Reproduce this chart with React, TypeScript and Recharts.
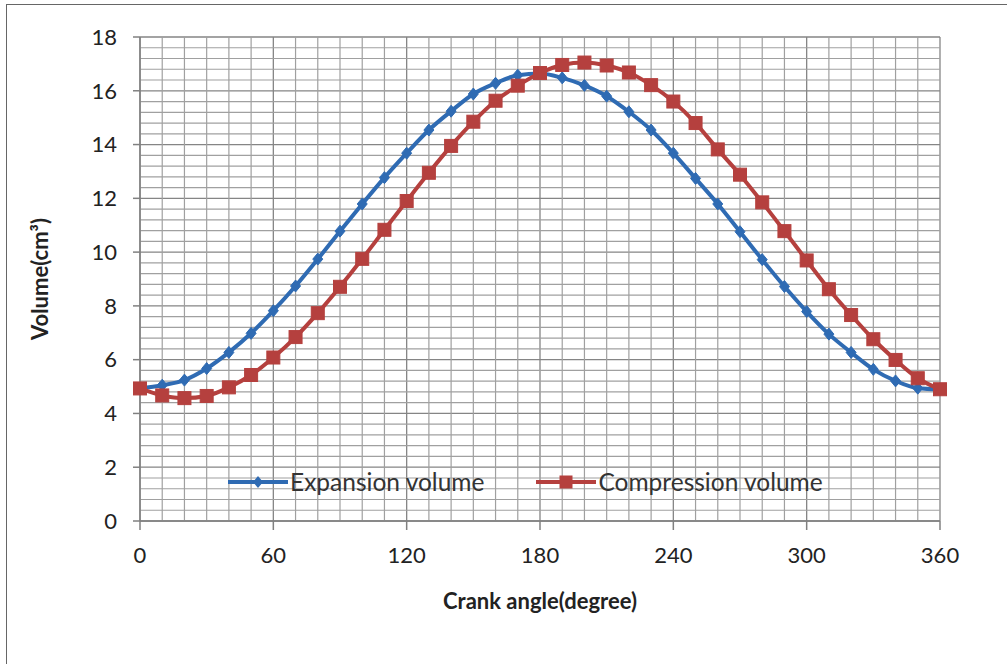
import React from "react";
import {
  LineChart,
  Line,
  XAxis,
  YAxis,
  CartesianGrid,
  ReferenceLine,
} from "recharts";

const BLUE = "#2f6bb3";
const RED = "#b5403e";
const FONT = "Lato, 'Open Sans', sans-serif";

const angles = [
  0, 10, 20, 30, 40, 50, 60, 70, 80, 90, 100, 110, 120, 130, 140, 150, 160, 170, 180,
  190, 200, 210, 220, 230, 240, 250, 260, 270, 280, 290, 300, 310, 320, 330, 340, 350, 360,
];
const expansion = [
  4.93, 5.05, 5.24, 5.67, 6.27, 6.98, 7.82, 8.74, 9.74, 10.78, 11.79, 12.77, 13.68, 14.54,
  15.24, 15.88, 16.28, 16.58, 16.64, 16.48, 16.2, 15.8, 15.22, 14.54, 13.68, 12.74, 11.79,
  10.76, 9.72, 8.72, 7.79, 6.95, 6.27, 5.64, 5.21, 4.94, 4.9,
];
const compression = [
  4.93, 4.67, 4.57, 4.65, 4.97, 5.43, 6.08, 6.84, 7.73, 8.71, 9.75, 10.83, 11.9, 12.95,
  13.95, 14.85, 15.63, 16.19, 16.66, 16.96, 17.05, 16.94, 16.68, 16.21, 15.6, 14.8, 13.82,
  12.88, 11.85, 10.78, 9.69, 8.62, 7.66, 6.76, 5.99, 5.31, 4.9,
];

const xTicks = [0, 60, 120, 180, 240, 300, 360];
const yTicks = [0, 2, 4, 6, 8, 10, 12, 14, 16, 18];
// minor grid: every 10 degrees, every 0.4 cm3
const minorX = angles.filter((a) => a % 60 !== 0);
const minorY = Array.from({ length: 45 }, (_, i) => +(i * 0.4).toFixed(1)).filter(
  (v) => v % 2 !== 0
);

const data = angles.map((a, i) => ({
  angle: a,
  expansion: expansion[i],
  compression: compression[i],
}));

const Diamond = (props: any) => {
  const { cx, cy } = props;
  if (cx == null || cy == null) return null;
  return (
    <polygon
      points={`${cx},${cy - 6} ${cx + 5},${cy} ${cx},${cy + 6} ${cx - 5},${cy}`}
      fill={BLUE}
      stroke={BLUE}
    />
  );
};

const Square = (props: any) => {
  const { cx, cy } = props;
  if (cx == null || cy == null) return null;
  return <rect x={cx - 6.5} y={cy - 6.5} width={13} height={13} fill={RED} stroke={RED} />;
};

function ChartLegend() {
  const item = (color: string, marker: React.ReactNode, label: string) => (
    <div style={{ display: "flex", alignItems: "center" }}>
      <svg width={64} height={20}>
        <line x1={2} y1={10} x2={62} y2={10} stroke={color} strokeWidth={4} />
        {marker}
      </svg>
      <span style={{ marginLeft: 0 }}>{label}</span>
    </div>
  );
  return (
    <div
      style={{
        position: "absolute",
        left: 226,
        top: 467,
        display: "flex",
        fontFamily: FONT,
        fontSize: 24.5,
        lineHeight: "30px",
        color: "#333",
        gap: 50,
      }}
    >
      {item(
        BLUE,
        <polygon points="32,4 37,10 32,16 27,10" fill={BLUE} />,
        "Expansion volume"
      )}
      {item(RED, <rect x={25.5} y={3.5} width={13} height={13} fill={RED} />, "Compression volume")}
    </div>
  );
}

export default function App() {
  return (
    <div
      style={{
        position: "fixed",
        left: 0,
        top: 0,
        width: 1007,
        height: 664,
        background: "#fff",
        overflow: "hidden",
      }}
    >
      <div
        style={{
          position: "absolute",
          left: 6,
          top: 4,
          width: 1100,
          height: 800,
          borderLeft: "1.5px solid #666",
          borderTop: "1.5px solid #666",
        }}
      />
      <div style={{ position: "absolute", left: 0, top: 0 }}>
        <LineChart
          width={1007}
          height={664}
          data={data}
          margin={{ top: 37, right: 67, left: 80, bottom: 113 }}
        >
          {minorY.map((v) => (
            <ReferenceLine key={"y" + v} y={v} stroke="#a0a0a0" strokeWidth={1.2} />
          ))}
          {minorX.map((v) => (
            <ReferenceLine key={"x" + v} x={v} stroke="#a0a0a0" strokeWidth={1.2} />
          ))}
          <CartesianGrid stroke="#858585" strokeWidth={1.3} />
          <XAxis
            dataKey="angle"
            type="number"
            domain={[0, 360]}
            ticks={xTicks}
            height={30}
            tick={{ fontSize: 22, fill: "#222", fontFamily: FONT }}
            tickSize={9}
            tickMargin={17}
            stroke="#808080"
            strokeWidth={1.5}
            label={{
              value: "Crank angle(degree)",
              position: "insideTop",
              offset: 72,
              style: { fontSize: 22, fontWeight: 700, fill: "#222", fontFamily: FONT },
            }}
          />
          <YAxis
            type="number"
            domain={[0, 18]}
            ticks={yTicks}
            width={60}
            tick={{ fontSize: 22, fill: "#222", fontFamily: FONT }}
            tickSize={7}
            tickMargin={16}
            stroke="#808080"
            strokeWidth={1.5}
            label={{
              value: "Volume(cm³)",
              angle: -90,
              position: "center",
              dx: -70,
              style: {
                fontSize: 22,
                fontWeight: 700,
                fill: "#222",
                fontFamily: FONT,
                textAnchor: "middle",
              },
            }}
          />
          <Line
            type="monotone"
            dataKey="expansion"
            stroke={BLUE}
            strokeWidth={4}
            dot={<Diamond />}
            isAnimationActive={false}
          />
          <Line
            type="monotone"
            dataKey="compression"
            stroke={RED}
            strokeWidth={4}
            dot={<Square />}
            isAnimationActive={false}
          />
        </LineChart>
      </div>
      <ChartLegend />
    </div>
  );
}
